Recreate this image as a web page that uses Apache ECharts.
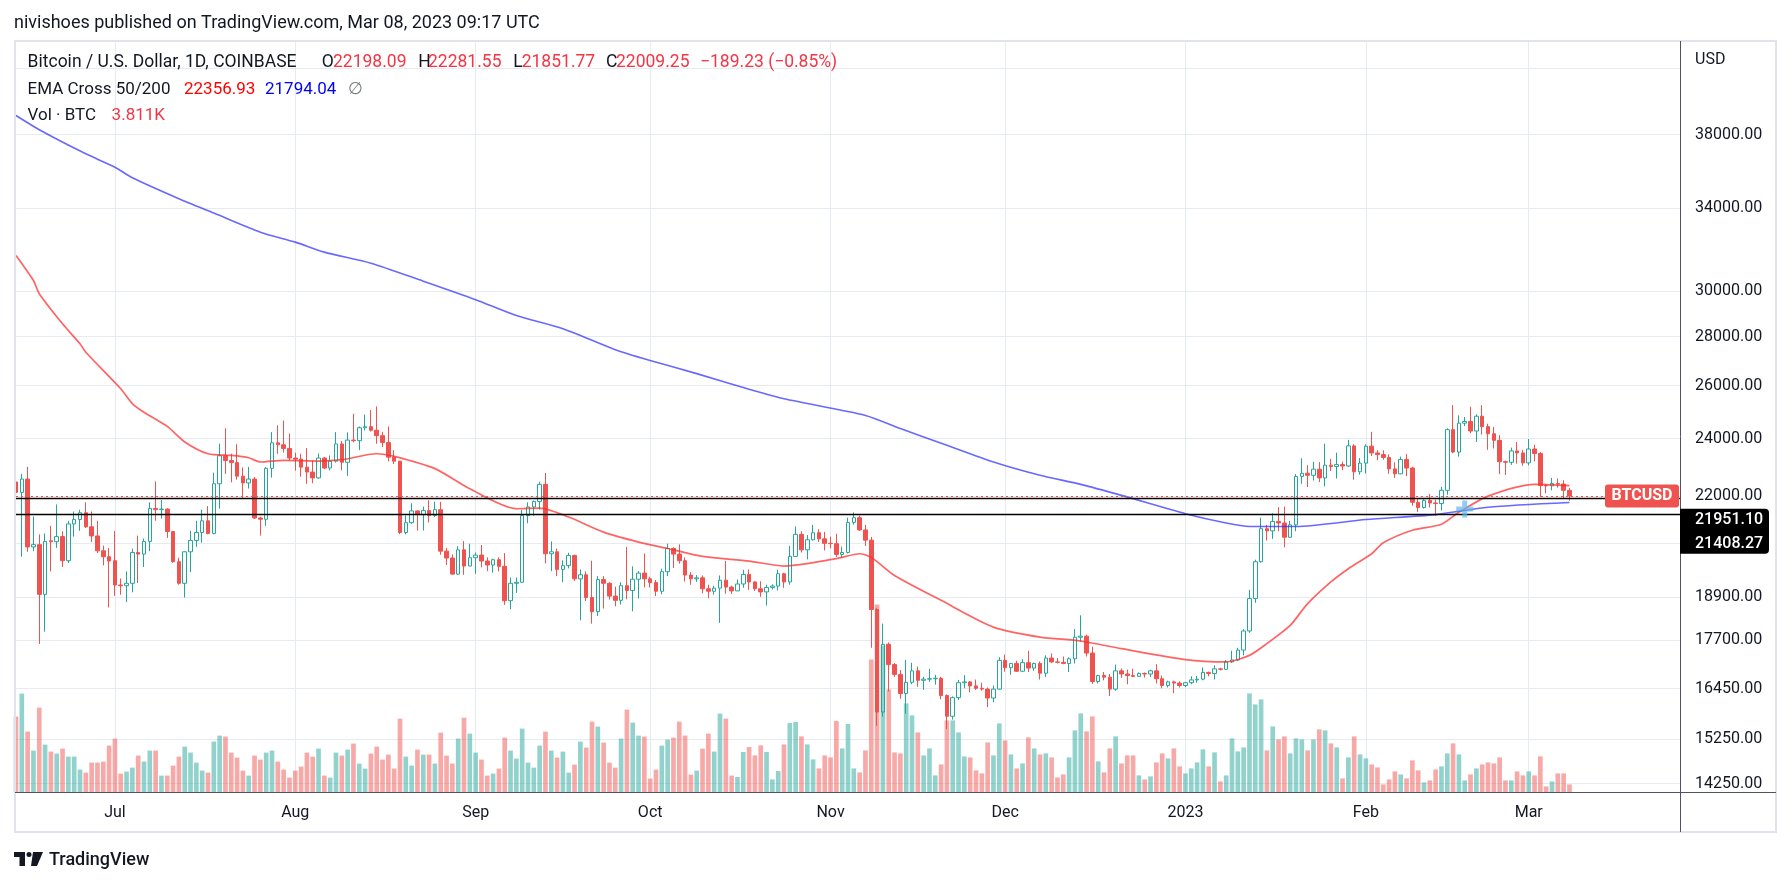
<!DOCTYPE html>
<html>
<head>
<meta charset="utf-8">
<title>BTCUSD 1D — Coinbase</title>
<script src="https://cdn.jsdelivr.net/npm/echarts@6/dist/echarts.min.js"></script>
<style>
  html, body { margin: 0; padding: 0; background: #ffffff; }
  #chart { width: 1791px; height: 886px; }
</style>
</head>
<body>
<div id="chart"></div>
<script>
(function () {
  "use strict";

  // ---- data ---------------------------------------------------------------
  const START = "2022-06-14";
  const N_DAYS = 287;            // the time scale runs on past the last bar
  const MONTHS = ["Jan", "Feb", "Mar", "Apr", "May", "Jun", "Jul", "Aug", "Sep", "Oct", "Nov", "Dec"];

  // daily bars, [open, high, low, close]
  const candles = [
    [22480,23340,20920,22130],[22130,22760,20080,22580],[22580,23000,20230,20380],[20380,21340,20250,20450],
    [20450,20770,17600,18970],[18970,20800,17930,20550],[20570,21040,19640,20540],[20540,21730,20350,20700],
    [20700,20870,19770,19960],[19960,21200,19890,21100],[21100,21500,20700,21240],[21240,21560,20880,21460],
    [21460,21800,20970,21010],[21010,21500,20530,20720],[20720,21200,20190,20260],[20260,20420,19820,20080],
    [20080,20350,18600,19950],[19960,20880,18930,19240],[19240,19430,18960,19220],[19220,19640,18750,19290],
    [19290,20330,19030,20210],[20210,20730,19300,20160],[20160,20640,19770,20550],[20550,21800,20250,21600],
    [21600,22500,21200,21560],[21560,21880,21270,21580],[21580,21600,20660,20860],[20860,20880,19900,19930],
    [19930,20050,19250,19290],[19290,20250,18880,20230],[20230,20880,19620,20580],[20580,21200,20380,20830],
    [20830,21560,20510,21200],[21200,21680,20770,20800],[20800,22800,20770,22420],[22420,23820,21590,23390],
    [23390,24380,22760,23220],[23220,23460,22470,23150],[23150,23800,22560,22680],[22680,22980,21950,22450],
    [22450,23000,22260,22580],[22580,22650,21260,21290],[21290,21330,20730,21250],[21250,22990,21040,22950],
    [22950,24240,22630,23850],[23850,24490,23460,23780],[23780,24670,23500,23650],[23650,24190,23230,23310],
    [23310,23500,22870,23270],[23270,23460,22660,22990],[22990,23660,22420,22820],[22820,23220,22440,22620],
    [22620,23470,22590,23310],[23310,23350,22920,22960],[22960,23400,22880,23200],[23200,24240,23150,23810],
    [23810,23920,22880,23160],[23160,24230,22690,23950],[23950,24920,23870,23930],[23930,24450,23590,24400],
    [24400,24890,24300,24440],[24440,25060,24260,24310],[24310,25200,23820,24110],[24110,24250,23700,23860],
    [23860,24450,23190,23340],[23340,23590,23100,23200],[23200,23210,20780,20830],[20830,21370,20770,21140],
    [21140,21770,21100,21520],[21520,21530,20890,21400],[21400,21660,20890,21530],[21530,21870,21150,21370],
    [21370,21820,21320,21560],[21560,21820,20140,20250],[20250,20350,19830,20040],[20040,20150,19540,19560],
    [19560,20400,19540,20290],[20290,20560,19540,19800],[19800,20480,19790,20050],[20050,20210,19570,20130],
    [20130,20440,19760,19950],[19950,20060,19650,19830],[19830,20020,19600,19990],[19990,20060,19640,19790],
    [19790,20190,18670,18790],[18790,19460,18550,19290],[19290,19460,19010,19320],[19320,21550,19300,21370],
    [21370,21800,21120,21650],[21650,21860,21360,21830],[21830,22490,21560,22400],[22400,22790,19880,20170],
    [20170,20550,19650,20230],[20230,20330,19500,19700],[19700,19970,19320,19810],[19810,20200,19730,20120],
    [20120,20140,19360,19420],[19420,19700,18240,19540],[19540,19640,18780,18880],[18880,19960,18150,18480],
    [18480,19500,18360,19400],[19400,19500,18570,19290],[19290,19320,18820,18920],[18920,19190,18630,18800],
    [18800,19320,18680,19220],[19220,20380,18830,19080],[19080,19790,18490,19410],[19410,19650,18850,19590],
    [19590,20180,19170,19420],[19420,19480,19170,19310],[19310,19390,18920,19060],[19060,19720,18970,19630],
    [19630,20480,19500,20330],[20330,20370,19740,20160],[20160,20460,19870,19960],[19960,20060,19340,19530],
    [19530,19620,19250,19420],[19420,19530,19330,19450],[19450,19520,19000,19130],[19130,19250,18860,19060],
    [19060,19220,18960,19150],[19150,19520,18170,19380],[19380,19950,18990,19180],[19180,19220,18980,19070],
    [19070,19400,19070,19270],[19270,19690,19160,19550],[19550,19700,19100,19330],[19330,19350,19070,19130],
    [19130,19350,18900,19040],[19040,19250,18650,19170],[19170,19260,19110,19210],[19210,19690,19080,19570],
    [19570,19600,19160,19330],[19330,20410,19250,20090],[20090,21020,20070,20770],[20770,20870,20210,20290],
    [20290,20750,20000,20600],[20600,21070,20580,20820],[20820,20930,20530,20630],[20630,20850,20270,20490],
    [20490,20700,20340,20480],[20480,20790,20070,20150],[20150,20390,20050,20210],[20210,21300,20180,21150],
    [21150,21470,21080,21300],[21300,21370,20880,20910],[20910,21070,20410,20590],[20590,20690,17500,18540],
    [18540,18590,15550,15880],[15880,18150,15770,17590],[17590,17640,16380,17060],[17060,17100,16750,16810],
    [16810,16920,16200,16330],[16330,17180,15840,16610],[16610,17110,16560,16900],[16900,17010,16500,16660],
    [16660,16750,16420,16690],[16690,16950,16620,16700],[16700,16800,16550,16710],[16710,16750,16190,16280],
    [16280,16310,15480,15780],[15780,16260,15700,16230],[16230,16670,16170,16600],[16600,16790,16460,16620],
    [16620,16640,16360,16520],[16520,16680,16420,16460],[16460,16600,16400,16440],[16440,16480,16000,16220],
    [16220,16530,16120,16440],[16440,17250,16430,17170],[17170,17320,16880,16980],[16980,17100,16800,17090],
    [17090,17160,16870,16890],[16890,17200,16880,17110],[17110,17420,16870,16970],[16970,17110,16900,17090],
    [17090,17140,16680,16840],[16840,17300,16740,17230],[17230,17350,17100,17130],[17130,17230,17090,17120],
    [17120,17270,17070,17090],[17090,17250,16870,17210],[17210,18000,17090,17780],[17780,18380,17660,17810],
    [17810,17850,17270,17360],[17360,17530,16570,16630],[16630,16800,16580,16780],[16780,16870,16660,16740],
    [16740,16820,16270,16440],[16440,17060,16400,16900],[16900,16960,16720,16820],[16820,16930,16560,16780],
    [16780,16950,16740,16760],[16760,16860,16750,16830],[16830,16860,16730,16820],[16820,16930,16740,16900],
    [16900,17070,16580,16700],[16700,16780,16460,16530],[16530,16650,16480,16620],[16620,16650,16340,16590],
    [16590,16630,16480,16530],[16530,16620,16490,16600],[16600,16760,16560,16670],[16670,16770,16600,16690],
    [16690,16990,16660,16860],[16860,16880,16760,16830],[16830,17040,16680,16950],[16950,16980,16910,16940],
    [16940,17180,16920,17130],[17130,17420,17100,17180],[17180,17500,17150,17440],[17440,18000,17300,17950],
    [17950,19100,17900,18850],[18850,19990,18730,19930],[19930,21300,19900,20950],[20950,21070,20580,20880],
    [20880,21440,20630,21180],[21180,21640,20870,21130],[21130,21660,20370,20680],[20680,21200,20660,21070],
    [21070,22750,20870,22670],[22670,23300,22420,22780],[22780,23060,22310,22710],[22710,23180,22530,22920],
    [22920,23170,22480,22620],[22620,23820,22330,23060],[23060,23280,22860,23010],[23010,23500,22600,23080],
    [23080,23180,22880,23030],[23030,23960,23000,23740],[23740,23800,22560,22830],[22830,23310,22730,23130],
    [23130,23800,22770,23730],[23730,24250,23380,23490],[23490,23590,23230,23430],[23430,23580,23250,23330],
    [23330,23440,22760,22930],[22930,23160,22620,22760],[22760,23360,22750,23260],[23260,23450,22680,22960],
    [22960,23010,21690,21800],[21800,21940,21490,21630],[21630,21900,21600,21860],[21860,22080,21630,21780],
    [21780,21890,21360,21760],[21760,22320,21530,22200],[22200,24380,22050,24330],[24330,25250,23480,23520],
    [23520,24860,23360,24570],[24570,24800,24460,24630],[24630,25190,24200,24280],[24280,24900,23880,24830],
    [24830,25250,24150,24440],[24440,24550,23600,24180],[24180,24430,23650,23940],[23940,24130,22750,23180],
    [23180,23220,22720,23160],[23160,23680,23070,23560],[23560,23880,23110,23490],[23490,23600,23040,23140],
    [23140,23990,23050,23630],[23630,23780,23190,23470],[23470,23520,21980,22360],[22360,22420,22100,22350],
    [22350,22620,22200,22430],[22430,22600,22290,22410],[22410,22540,21930,22200],[22198.09,22281.55,21851.77,22009.25]
  ];

  // daily volume, thousands of BTC
  const volumes = [
    37.7,49.2,30.2,20.7,42.2,23.7,20.2,19.2,21.7,17.7,17.7,11.2,9.7,14.7,14.7,15.2,23.2,26.7,9.2,10.2,
    12.2,18.2,15.2,20.7,20.7,8.2,8.2,13.2,17.7,22.7,19.7,14.7,10.7,9.7,25.2,28.2,27.7,19.7,17.2,10.7,
    8.2,18.2,16.2,19.7,20.7,15.2,11.2,7.2,10.7,12.7,19.7,17.7,21.7,8.2,7.2,19.7,18.2,21.2,24.2,14.2,
    11.7,19.2,22.7,16.2,18.7,11.7,36.7,17.7,13.2,21.2,18.7,18.7,14.2,29.7,18.2,14.2,26.7,37.2,29.2,19.7,
    16.2,8.2,9.2,11.7,27.2,20.7,16.7,31.7,14.7,12.2,23.2,30.2,20.7,17.2,20.2,9.7,13.7,25.2,22.2,35.2,
    32.7,24.7,14.7,12.2,26.7,41.2,34.7,28.2,27.7,6.7,11.2,23.2,26.2,27.2,35.2,28.2,8.7,10.7,21.7,29.2,
    20.2,39.2,36.7,8.2,7.5,20.0,22.5,18.3,23.3,20.0,6.3,10.5,23.8,34.5,35.0,27.8,23.8,16.3,11.8,18.3,
    17.3,35.5,21.8,34.0,11.8,9.8,20.8,66.3,93.8,73.3,51.3,19.8,19.3,44.3,38.3,29.8,18.3,21.8,8.3,13.8,
    35.8,35.8,29.8,17.8,17.3,10.8,9.3,24.8,18.3,34.3,25.8,18.8,11.8,14.3,27.3,21.8,18.8,19.3,17.3,7.3,
    8.8,17.3,30.8,39.3,30.3,37.8,15.3,9.8,21.8,27.8,14.3,18.3,18.3,8.3,6.3,7.8,14.8,19.3,16.8,21.8,
    12.8,9.3,11.8,14.8,21.3,12.8,19.8,5.3,8.3,26.8,20.3,22.3,49.3,43.8,46.3,20.8,32.8,26.3,27.8,19.3,
    26.8,26.3,20.8,26.3,31.3,30.8,24.3,22.3,6.8,17.3,27.8,18.8,16.8,13.8,12.3,3.8,6.3,10.3,8.8,6.8,
    15.8,10.8,4.8,5.8,11.3,12.8,19.3,24.3,18.8,5.8,8.8,11.8,13.8,14.8,14.3,17.3,5.8,5.8,10.3,8.3,
    10.3,8.3,17.8,2.8,5.3,9.3,9.3,3.811
  ];

  // EMA Cross 50/200: [bar index, price]
  const emaFast = [
    [0,31656],[3,30480],[4,29880],[8,28550],[11,27700],[12,27350],[18,25880],[20,25310],[22,24980],
    [26,24450],[29,23880],[33,23460],[37,23400],[40,23320],[42,23170],[46,23230],[52,23200],[56,23250],
    [62,23460],[65,23370],[72,22940],[78,22250],[86,21590],[90,21610],[95,21320],[101,20840],[107,20530],
    [112,20330],[118,20090],[126,19950],[132,19800],[141,20020],[145,20170],[147,20060],[151,19520],
    [159,18800],[168,18055],[176,17785],[183,17680],[190,17476],[201,17190],[208,17130],[212,17300],
    [215,17610],[219,18100],[222,18706],[226,19330],[229,19720],[233,20172],[235,20510],[240,20900],
    [245,21090],[248,21475],[253,22006],[261,22400],[267,22357]
  ];
  const emaSlow = [
    [0,39110],[4,38280],[12,36910],[17,36170],[20,35600],[28,34490],[34,33750],[42,32790],[48,32300],
    [53,31815],[61,31290],[70,30450],[79,29610],[86,28910],[94,28340],[103,27455],[109,27010],[117,26480],
    [126,25860],[132,25490],[146,24860],[152,24370],[160,23760],[168,23170],[176,22710],[183,22400],
    [190,22030],[201,21430],[208,21130],[212,21020],[220,21020],[232,21240],[244,21400],[253,21640],[267,21794]
  ];
  const crossMark = [[249, 21580]];

  // price scale (log)
  const priceMin = 14073, priceMax = 43770;
  const priceTicks = [14250, 15250, 16450, 17700, 18900, 20500, 22000, 24000, 26000, 28000, 30000, 34000, 38000, 42000];
  const priceLabels = [14250, 15250, 16450, 17700, 18900, 22000, 24000, 26000, 28000, 30000, 34000, 38000];
  const levels = [21951.10, 21408.27];
  const lastClose = 22009.25;

  // legend rows: [x, text, style]
  const legendOHLC = [
    [27.6, "Bitcoin / U.S. Dollar, 1D, COINBASE", "t"],
    [321.7, "O", "t"], [333, "22198.09", "r"],
    [418.3, "H", "t"], [428, "22281.55", "r"],
    [513.3, "L", "t"], [521.7, "21851.77", "r"],
    [606, "C", "t"], [616, "22009.25", "r"],
    [700, "\u2212189.23 (\u22120.85%)", "r"],
  ];
  const legendEMA = [
    [27.6, "EMA Cross 50/200", "t"], [184, "22356.93", "v"], [265, "21794.04", "b"], [348, "\u2205", "g"],
  ];
  const legendVol = [[27.6, "Vol \u00b7 BTC", "t"], [111.6, "3.811K", "r"]];

  // ---- look ----------------------------------------------------------------
  const FONT = "Roboto, 'Noto Sans', sans-serif";
  const INK = "#131722";
  const UP = "#26a69a", DOWN = "#ef5350";
  const UP_VOL = "rgba(38,166,154,0.5)", DOWN_VOL = "rgba(239,83,80,0.5)";
  const GRID = "#e6ebf1";
  const AXIS = "#50535e";
  const PLOT = { left: 16, right: 111, top: 41, bottom: 94 };
  const LEGEND_COLORS = { t: INK, r: "#f23645", v: "#ff0000", b: "#0000ff", g: "#787b86" };

  const days = [];
  const t0 = Date.parse(START + "T00:00:00Z");
  for (let i = 0; i < N_DAYS; i++) days.push(new Date(t0 + i * 86400000).toISOString().slice(0, 10));
  const monthStart = (i, v) => v.slice(8) === "01";
  const monthName = (v) => { const m = +v.slice(5, 7); return m === 1 ? v.slice(0, 4) : MONTHS[m - 1]; };

  const chart = echarts.init(document.getElementById("chart"), null, { renderer: "canvas" });

  chart.setOption({
    animation: false,
    backgroundColor: "#ffffff",
    textStyle: { fontFamily: FONT },
    grid: [
      Object.assign({ outerBoundsMode: "none" }, PLOT),
      { outerBoundsMode: "none", left: PLOT.left, right: PLOT.right, top: 592, bottom: PLOT.bottom },
    ],
    xAxis: [
      { type: "category", gridIndex: 0, data: days, boundaryGap: false,
        axisLine: { show: false }, axisTick: { show: false, interval: monthStart },
        axisLabel: { show: false, interval: monthStart },
        splitLine: { show: true, interval: monthStart, lineStyle: { color: GRID, width: 1 } } },
      { type: "category", gridIndex: 1, data: days, boundaryGap: false,
        axisLine: { show: false }, axisTick: { show: false },
        axisLabel: { show: true, interval: monthStart, formatter: monthName, margin: 13,
                     color: INK, fontSize: 16, fontFamily: FONT },
        splitLine: { show: false } },
    ],
    yAxis: [
      { type: "log", gridIndex: 0, position: "right", min: priceMin, max: priceMax,
        axisLine: { show: false },
        axisTick: { show: false, customValues: priceTicks },
        axisLabel: { customValues: priceLabels, formatter: (v) => Number(v).toFixed(2),
                     color: INK, fontSize: 16, fontFamily: FONT, margin: 15 },
        splitLine: { show: true, lineStyle: { color: GRID, width: 1 } } },
      { type: "value", gridIndex: 1, min: 0, max: 100, show: false,
        axisLine: { show: false }, axisLabel: { show: false }, splitLine: { show: false } },
    ],
    series: [
      { name: "Vol", type: "bar", xAxisIndex: 1, yAxisIndex: 1, z: 1, barWidth: "80%",
        data: volumes.map((v, i) => ({
          value: v,
          itemStyle: { color: candles[i][3] >= candles[i][0] ? UP_VOL : DOWN_VOL },
        })) },
      { name: "BTCUSD", type: "candlestick", xAxisIndex: 0, yAxisIndex: 0, z: 3, barWidth: 4,
        data: candles.map(([o, h, l, c]) => [o, c, l, h]),
        itemStyle: { color: "rgba(255,255,255,0)", color0: DOWN, borderColor: UP, borderColor0: DOWN, borderWidth: 1 },
        markLine: {
          silent: true, symbol: "none", label: { show: false }, z: 5,
          data: [
            { yAxis: lastClose, lineStyle: { color: DOWN, type: [2, 3], width: 1 } },
            { yAxis: levels[0], lineStyle: { color: "#000000", type: "solid", width: 1.4 } },
            { yAxis: levels[1], lineStyle: { color: "#000000", type: "solid", width: 1.4 } },
          ],
        } },
      { name: "EMA 50", type: "line", xAxisIndex: 0, yAxisIndex: 0, z: 4, data: emaFast,
        showSymbol: false, smooth: 0.25, lineStyle: { color: "rgba(255,40,40,0.72)", width: 1.7 } },
      { name: "EMA 200", type: "line", xAxisIndex: 0, yAxisIndex: 0, z: 4, data: emaSlow,
        showSymbol: false, smooth: 0.25, lineStyle: { color: "rgba(40,40,255,0.7)", width: 1.6 } },
      { name: "Cross", type: "scatter", xAxisIndex: 0, yAxisIndex: 0, z: 6, data: crossMark,
        symbol: "path://M6,0H11V6H17V11H11V17H6V11H0V6H6Z", symbolSize: 17,
        itemStyle: { color: "rgba(90,180,235,0.85)" } },
    ],
  });

  // ---- frame, header, price tags: laid out from the axis scale -------------
  const yOf = (v) => chart.convertToPixel({ yAxisIndex: 0 }, v);
  const W = 1791;
  const axisX = W - PLOT.right;
  const frameTop = PLOT.top, baseY = 886 - PLOT.bottom;
  const yLast = yOf(lastClose), yLvl = yOf(levels[0]);

  const legendRow = (y, parts, size) => parts.map(([x, text, k]) => ({
    type: "text", x: x, y: y, z: 50,
    style: { text: text, fill: LEGEND_COLORS[k], font: size + "px " + FONT, verticalAlign: "middle" },
  }));

  chart.setOption({
    graphic: { elements: [
      { type: "rect", z: 40, shape: { x: 15, y: frameTop, width: 1761, height: 832 - frameTop },
        style: { fill: null, stroke: "#e0e3eb", lineWidth: 2 } },
      { type: "line", z: 41, shape: { x1: axisX + 0.5, y1: frameTop, x2: axisX + 0.5, y2: 832 },
        style: { stroke: AXIS, lineWidth: 1 } },
      { type: "line", z: 41, shape: { x1: 15, y1: baseY + 0.5, x2: 1776, y2: baseY + 0.5 },
        style: { stroke: AXIS, lineWidth: 1.2 } },

      { type: "text", x: 14, y: 23, z: 50,
        style: { text: "nivishoes published on TradingView.com, Mar 08, 2023 09:17 UTC",
                 fill: INK, font: "18px " + FONT, verticalAlign: "middle" } },
    ].concat(
      legendRow(63, legendOHLC, 17.5),
      legendRow(90, legendEMA, 17),
      legendRow(116, legendVol, 17),
      [
        { type: "text", x: axisX + 15, y: 60, z: 50,
          style: { text: "USD", fill: INK, font: "16px " + FONT, verticalAlign: "middle" } },

        // last-price tag
        { type: "rect", z: 60, shape: { x: axisX - 75, y: yLast - 11.5, width: 74, height: 23, r: 3 },
          style: { fill: DOWN } },
        { type: "text", x: axisX - 38, y: yLast, z: 61,
          style: { text: "BTCUSD", fill: "#ffffff", font: "bold 16px " + FONT, align: "center", verticalAlign: "middle" } },

        // the two horizontal levels, stacked on the price scale
        { type: "rect", z: 60, shape: { x: axisX, y: yLvl + 11, width: 89, height: 45, r: [0, 4, 4, 0] },
          style: { fill: "#000000" } },
        { type: "text", x: axisX + 15, y: yLvl + 22.7, z: 61,
          style: { text: levels[0].toFixed(2), fill: "#ffffff", font: "500 16px " + FONT, verticalAlign: "middle" } },
        { type: "text", x: axisX + 15, y: yLvl + 46, z: 61,
          style: { text: levels[1].toFixed(2), fill: "#ffffff", font: "500 16px " + FONT, verticalAlign: "middle" } },

        // TradingView mark
        { type: "group", x: 0, y: 0, z: 50, children: [
          { type: "rect", shape: { x: 14, y: 852, width: 11, height: 5 }, style: { fill: INK } },
          { type: "rect", shape: { x: 19.5, y: 852, width: 5.5, height: 14 }, style: { fill: INK } },
          { type: "circle", shape: { cx: 29, cy: 854.5, r: 2.5 }, style: { fill: INK } },
          { type: "polygon", shape: { points: [[33, 852], [43, 852], [37, 866], [31, 866]] }, style: { fill: INK } },
        ] },
        { type: "text", x: 49, y: 860, z: 50,
          style: { text: "TradingView", fill: INK, font: "500 18px " + FONT, verticalAlign: "middle" } },
      ]
    ) },
  });
})();
</script>
</body>
</html>
